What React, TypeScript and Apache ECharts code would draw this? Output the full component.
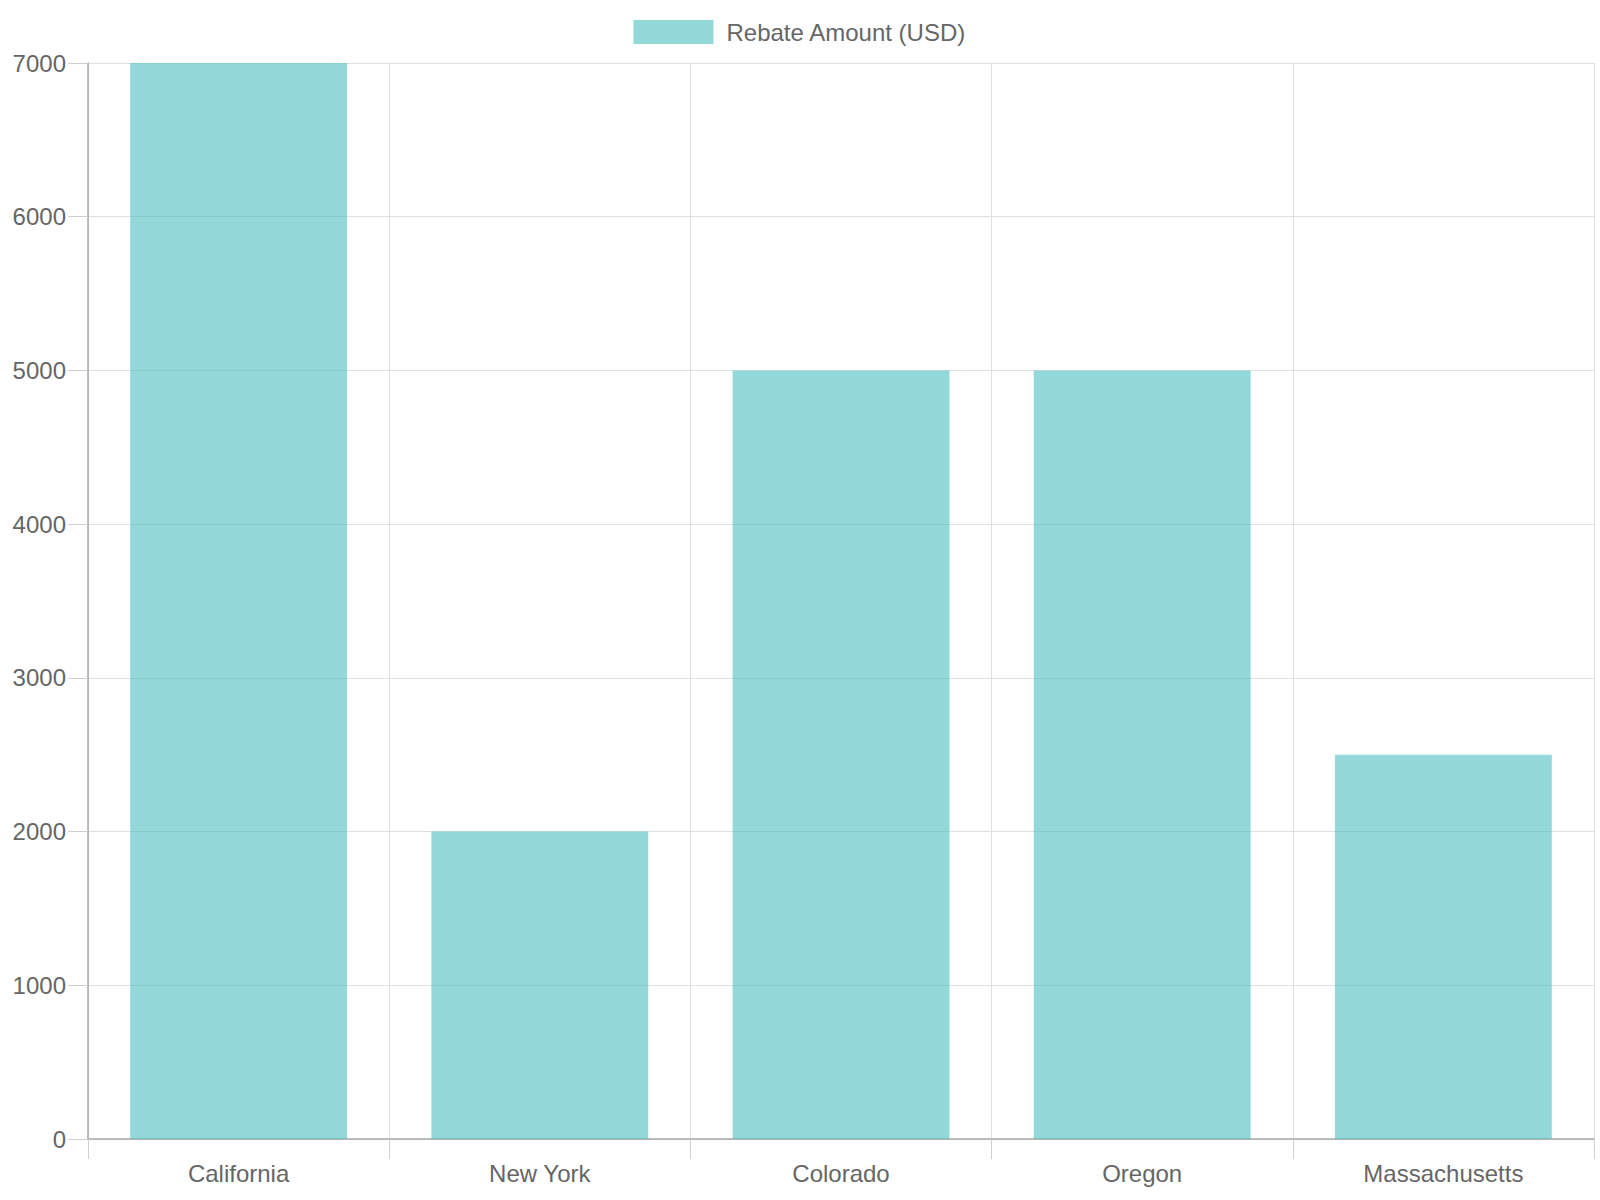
import React, {useEffect, useRef} from 'react';
import * as echarts from 'echarts';

const states = ['California', 'New York', 'Colorado', 'Oregon', 'Massachusetts'];
const rebates = [7000, 2000, 5000, 5000, 2500];
const seriesName = 'Rebate Amount (USD)';

const FONT = '"Liberation Sans", Arial, Helvetica, sans-serif';
const TEXT = '#666666';
const GRID = '#e0e0e0';
const AXIS = '#a8a8a8';
const TICK = '#cfcfcf';
const BAR = 'rgba(75, 192, 192, 0.6)';

const App = () => {
    const ref = useRef<HTMLDivElement>(null);

    useEffect(() => {
        const chart = echarts.init(ref.current as HTMLDivElement, undefined, {renderer: 'svg'});
        chart.setOption({
            animation: false,
            textStyle: {fontFamily: FONT},
            legend: {
                data: [seriesName],
                top: 15,
                left: 'center',
                icon: 'rect',
                itemWidth: 80,
                itemHeight: 24,
                textStyle: {
                    fontFamily: FONT,
                    fontSize: 24,
                    color: TEXT,
                    padding: [0, 0, 0, 8]
                }
            },
            grid: {left: 88, right: 6, top: 63, bottom: 61, containLabel: false},
            xAxis: {
                type: 'category',
                data: states,
                boundaryGap: true,
                axisLine: {show: true, lineStyle: {color: AXIS, width: 1.5}},
                axisTick: {show: true, length: 20, lineStyle: {color: TICK, width: 1}},
                splitLine: {show: true, lineStyle: {color: GRID, width: 1}},
                axisLabel: {fontFamily: FONT, fontSize: 24, color: TEXT, margin: 22}
            },
            yAxis: {
                type: 'value',
                min: 0,
                max: 7000,
                interval: 1000,
                axisLine: {show: true, lineStyle: {color: AXIS, width: 1.5}},
                axisTick: {show: true, inside: false, length: 20, lineStyle: {color: TICK, width: 1}},
                splitLine: {show: true, lineStyle: {color: GRID, width: 1}},
                axisLabel: {
                    fontFamily: FONT,
                    fontSize: 24,
                    color: TEXT,
                    margin: 22,
                    formatter: (v: number) => String(v)
                }
            },
            series: [
                {
                    name: seriesName,
                    type: 'bar',
                    data: rebates,
                    barCategoryGap: '28%',
                    itemStyle: {color: BAR},
                    z: 1
                }
            ]
        });
        return () => chart.dispose();
    }, []);

    return <div ref={ref} style={{position: 'absolute', left: 0, top: 0, width: 1600, height: 1200}} />;
};

export default App;
